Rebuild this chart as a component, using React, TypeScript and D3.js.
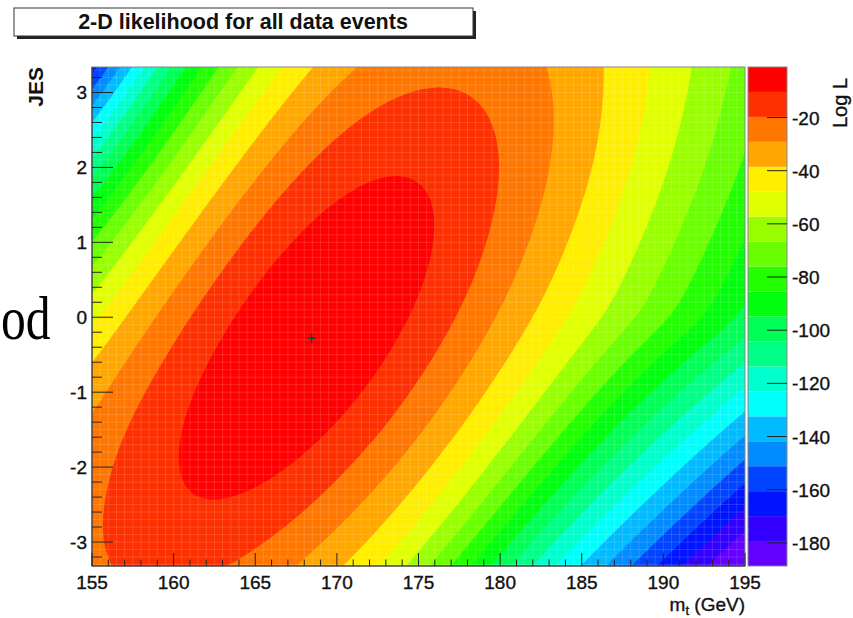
import React, { useMemo } from "react";
import * as d3 from "d3";

// Axis ranges and tick labels
const MT_DOMAIN: [number, number] = [155, 195];
const JES_DOMAIN: [number, number] = [-3.32, 3.34];
const MT_TICKS = [155, 160, 165, 170, 175, 180, 185, 190, 195];
const JES_TICKS = [-3, -2, -1, 0, 1, 2, 3];
const LOGL_DOMAIN: [number, number] = [-188.7, -1.0];
const LOGL_TICKS = [-20, -40, -60, -80, -100, -120, -140, -160, -180];

// 20 contour levels, "pretty" palette (violet -> red)
const LEVEL_COLORS = [
  "#6300ff", "#3300ff", "#0014ff", "#0044ff", "#008bff",
  "#00bbff", "#00fffc", "#00ffcc", "#00ff85", "#00ff55",
  "#00ff0e", "#22ff00", "#69ff00", "#99ff00", "#e0ff00",
  "#ffee00", "#ffa700", "#ff7700", "#ff3000", "#ff0000",
];

// Best-fit point (m_t in GeV, JES)
const BEST_FIT = { mt: 168.45, jes: -0.28 };

// Log-likelihood sampled on a grid: columns are m_t, rows are JES (ascending)
const GRID_MT = [155, 157.5, 160, 162.5, 165, 167.5, 170, 172.5, 175, 177.5, 180, 182.5, 185, 187.5, 190, 192.5, 195];
const GRID_JES = [-3.5, -3.0, -2.5, -2.0, -1.5, -1.0, -0.5, 0.0, 0.5, 1.0, 1.5, 2.0, 2.5, 3.0, 3.5];
const LOGL_JES_M35 = [-21.8, -18.8, -18.2, -20.4, -25.0, -31.7, -39.7, -50.3, -65.9, -85.2, -105.4, -122.8, -137.8, -152.9, -168.1, -183.3, -198.7];
const LOGL_JES_M30 = [-20.9, -16.3, -14.1, -14.6, -18.1, -24.0, -31.7, -40.6, -53.2, -70.2, -89.7, -108.7, -124.2, -139.0, -153.8, -168.8, -183.7];
const LOGL_JES_M25 = [-21.4, -15.3, -11.3, -10.1, -12.0, -16.9, -24.1, -32.6, -42.9, -57.2, -74.8, -93.7, -110.9, -125.3, -139.7, -154.3, -168.9];
const LOGL_JES_M20 = [-23.2, -15.9, -10.3, -7.1, -7.2, -10.7, -17.1, -25.3, -34.6, -46.5, -61.7, -79.2, -96.8, -111.8, -125.8, -139.9, -154.1];
const LOGL_JES_M15 = [-26.6, -18.0, -10.9, -6.0, -4.0, -5.7, -10.9, -18.5, -27.6, -37.9, -50.8, -66.3, -82.8, -98.6, -112.2, -125.8, -139.4];
const LOGL_JES_M10 = [-32.3, -22.0, -13.4, -6.7, -2.8, -2.4, -6.0, -12.7, -21.3, -31.0, -42.2, -55.4, -70.2, -85.2, -98.9, -111.9, -124.9];
const LOGL_JES_M05 = [-40.0, -27.9, -17.6, -9.3, -3.6, -1.1, -2.7, -8.0, -15.9, -25.2, -35.4, -46.9, -59.5, -72.8, -85.9, -98.2, -110.5];
const LOGL_JES_P00 = [-49.8, -35.5, -23.5, -13.6, -6.3, -2.0, -1.4, -4.9, -11.6, -20.2, -30.0, -40.4, -51.2, -62.3, -73.5, -84.9, -96.4];
const LOGL_JES_P05 = [-61.6, -45.0, -30.9, -19.5, -10.6, -4.8, -2.3, -3.7, -8.8, -16.4, -25.6, -35.6, -46.2, -57.1, -68.2, -79.5, -90.9];
const LOGL_JES_P10 = [-75.5, -56.2, -40.0, -26.7, -16.3, -9.1, -5.0, -4.5, -7.7, -14.0, -22.3, -31.7, -41.9, -52.5, -63.4, -74.6, -85.9];
const LOGL_JES_P15 = [-91.2, -69.2, -50.5, -35.2, -23.2, -14.5, -9.2, -7.1, -8.4, -13.1, -20.2, -28.8, -38.4, -48.7, -59.3, -70.2, -81.4];
const LOGL_JES_P20 = [-108.8, -83.8, -62.6, -45.0, -31.2, -21.0, -14.4, -11.0, -10.8, -13.7, -19.4, -27.0, -35.9, -45.6, -55.9, -66.5, -77.4];
const LOGL_JES_P25 = [-128.1, -100.1, -76.0, -56.1, -40.2, -28.4, -20.4, -15.9, -14.4, -15.8, -20.0, -26.4, -34.4, -43.5, -53.3, -63.5, -74.1];
const LOGL_JES_P30 = [-149.1, -117.8, -90.9, -68.3, -50.2, -36.6, -27.2, -21.5, -18.9, -19.0, -21.8, -27.0, -34.0, -42.3, -51.4, -61.2, -71.5];
const LOGL_JES_P35 = [-171.5, -137.0, -107.1, -81.8, -61.3, -45.6, -34.6, -27.7, -24.1, -23.2, -24.7, -28.6, -34.5, -41.9, -50.4, -59.6, -69.5];

const LOGL_GRID: number[][] = [
  LOGL_JES_M35, LOGL_JES_M30, LOGL_JES_M25, LOGL_JES_M20, LOGL_JES_M15,
  LOGL_JES_M10, LOGL_JES_M05, LOGL_JES_P00, LOGL_JES_P05, LOGL_JES_P10,
  LOGL_JES_P15, LOGL_JES_P20, LOGL_JES_P25, LOGL_JES_P30, LOGL_JES_P35,
];

const W = 853, H = 618;
const PLOT = { left: 92, right: 745, top: 67, bottom: 566 };
const BAR = { left: 748, right: 787 };
const FONT = "'Liberation Sans', Arial, Helvetica, sans-serif";

// Resample the coarse grid with B-splines (rows first, then columns); output row 0 is the top
function upsample(grid: number[][], nx: number, ny: number) {
  const rows = grid.map((row) => {
    const f = d3.interpolateBasis(row);
    return d3.range(nx).map((i) => f(i / (nx - 1)));
  });
  const out = new Array(nx * ny);
  for (let i = 0; i < nx; i++) {
    const f = d3.interpolateBasis(rows.map((r) => r[i]));
    for (let k = 0; k < ny; k++) out[k * nx + i] = f(1 - k / (ny - 1));
  }
  return out as number[];
}

export default function App() {
  const x = d3.scaleLinear().domain(MT_DOMAIN).range([PLOT.left, PLOT.right]);
  const y = d3.scaleLinear().domain(JES_DOMAIN).range([PLOT.bottom, PLOT.top]);
  const z = d3.scaleLinear().domain(LOGL_DOMAIN).range([PLOT.bottom, PLOT.top]);
  const step = (LOGL_DOMAIN[1] - LOGL_DOMAIN[0]) / LEVEL_COLORS.length;
  const levels = LEVEL_COLORS.map((_, k) => LOGL_DOMAIN[0] + k * step);

  const bands = useMemo(() => {
    const nx = 241, ny = 211;
    const values = upsample(LOGL_GRID, nx, ny);
    const mt0 = GRID_MT[0], mt1 = GRID_MT[GRID_MT.length - 1];
    const j0 = GRID_JES[0], j1 = GRID_JES[GRID_JES.length - 1];
    const dm = (mt1 - mt0) / (nx - 1), dj = (j1 - j0) / (ny - 1);
    const proj = d3.geoTransform({
      point(px: number, py: number) {
        (this as any).stream.point(x(mt0 + (px - 0.5) * dm), y(j1 - (py - 0.5) * dj));
      },
    });
    const path = d3.geoPath(proj as any);
    const gen = d3.contours().size([nx, ny]);
    return levels.slice(1).map((t, k) => ({ d: path(gen.contour(values, t) as any) || "", color: LEVEL_COLORS[k + 1] }));
  }, []);

  const mtMinor = d3.range(155, 195.001, 1);
  const jesMinor = d3.range(-3.2, 3.3, 0.2);
  const binX = d3.range(155.5, 195, 0.5);
  const binY = d3.range(-3.3, 3.34, 0.1);
  const labelStroke = { stroke: "#111", strokeWidth: 0.35 };

  return (
    <svg width={W} height={H} style={{ position: "absolute", left: 0, top: 0, background: "#fff" }} fontFamily={FONT}>
      <defs>
        <clipPath id="plotClip">
          <rect x={PLOT.left} y={PLOT.top} width={PLOT.right - PLOT.left} height={PLOT.bottom - PLOT.top} />
        </clipPath>
      </defs>

      {/* title box with shadow */}
      <rect x={17} y={11} width={459} height={28} fill="#222" />
      <rect x={14} y={8} width={459} height={28} fill="#fff" stroke="#333" strokeWidth={1} />
      <text x={243} y={29} textAnchor="middle" fontSize={21.5} fontWeight="bold" fill="#111">
        2-D likelihood for all data events
      </text>

      {/* slide text fragment at the left */}
      <text transform="translate(1,339) scale(0.8,1)" fontSize={62} fontFamily="'Liberation Serif', 'Times New Roman', serif" fill="#000">
        od
      </text>

      {/* filled likelihood contours */}
      <g clipPath="url(#plotClip)">
        <rect x={PLOT.left} y={PLOT.top} width={PLOT.right - PLOT.left} height={PLOT.bottom - PLOT.top} fill={LEVEL_COLORS[0]} />
        {bands.map((b, i) => (
          <path key={i} d={b.d} fill={b.color} />
        ))}
        <g stroke="#fff" strokeOpacity={0.14} strokeWidth={1}>
          {binX.map((m) => (
            <line key={"bx" + m} x1={x(m)} x2={x(m)} y1={PLOT.top} y2={PLOT.bottom} />
          ))}
          {binY.map((j) => (
            <line key={"by" + j} x1={PLOT.left} x2={PLOT.right} y1={y(j)} y2={y(j)} />
          ))}
        </g>
      </g>

      {/* best-fit marker */}
      <g stroke="#333" strokeWidth={1.5}>
        <line x1={x(BEST_FIT.mt) - 4} x2={x(BEST_FIT.mt) + 4} y1={y(BEST_FIT.jes)} y2={y(BEST_FIT.jes)} />
        <line x1={x(BEST_FIT.mt)} x2={x(BEST_FIT.mt)} y1={y(BEST_FIT.jes) - 5} y2={y(BEST_FIT.jes) + 5} />
      </g>

      {/* frame */}
      <rect x={PLOT.left} y={PLOT.top} width={PLOT.right - PLOT.left} height={PLOT.bottom - PLOT.top} fill="none" stroke="#888" />

      {/* x axis */}
      <g stroke="#222">
        <line x1={PLOT.left} x2={PLOT.right} y1={PLOT.bottom} y2={PLOT.bottom} />
        {mtMinor.map((m) => (
          <line key={"xm" + m} x1={x(m)} x2={x(m)} y1={PLOT.bottom} y2={PLOT.bottom - (MT_TICKS.includes(m) ? 13 : 6.5)} />
        ))}
      </g>
      {MT_TICKS.map((m) => (
        <text key={"xl" + m} x={x(m)} y={589} textAnchor="middle" fontSize={19} fill="#111" {...labelStroke}>
          {m}
        </text>
      ))}
      <text x={PLOT.right} y={611} textAnchor="end" fontSize={19} fill="#111" {...labelStroke}>
        m<tspan fontSize={13} dy={4}>t</tspan>
        <tspan dy={-4}> (GeV)</tspan>
      </text>

      {/* y axis */}
      <g stroke="#222">
        <line x1={PLOT.left} x2={PLOT.left} y1={PLOT.top} y2={PLOT.bottom} />
        {jesMinor.map((j) => {
          const major = JES_TICKS.some((t) => Math.abs(t - j) < 1e-6);
          return <line key={"ym" + j} x1={PLOT.left} x2={PLOT.left + (major ? 21 : 10)} y1={y(j)} y2={y(j)} />;
        })}
      </g>
      {JES_TICKS.map((j) => (
        <text key={"yl" + j} x={87} y={y(j) + 7} textAnchor="end" fontSize={19} fill="#111" {...labelStroke}>
          {j}
        </text>
      ))}
      <text transform={`translate(43,67) rotate(-90)`} textAnchor="end" fontSize={21} fontWeight="bold" fill="#111">
        JES
      </text>

      {/* palette */}
      {LEVEL_COLORS.map((c, k) => (
        <rect key={"p" + k} x={BAR.left} width={BAR.right - BAR.left} y={z(levels[k] + step)} height={z(levels[k]) - z(levels[k] + step)} fill={c} />
      ))}
      <rect x={BAR.left} y={PLOT.top} width={BAR.right - BAR.left} height={PLOT.bottom - PLOT.top} fill="none" stroke="#888" />
      <g stroke="#222">
        {LOGL_TICKS.map((t) => (
          <line key={"zt" + t} x1={BAR.right} x2={BAR.right - 20} y1={z(t)} y2={z(t)} />
        ))}
      </g>
      {LOGL_TICKS.map((t) => (
        <text key={"zl" + t} x={792} y={z(t) + 7} fontSize={19} fill="#111" {...labelStroke}>
          {t}
        </text>
      ))}
      <text transform={`translate(847,78) rotate(-90)`} textAnchor="end" fontSize={20} fill="#111" {...labelStroke}>
        Log L
      </text>
    </svg>
  );
}
